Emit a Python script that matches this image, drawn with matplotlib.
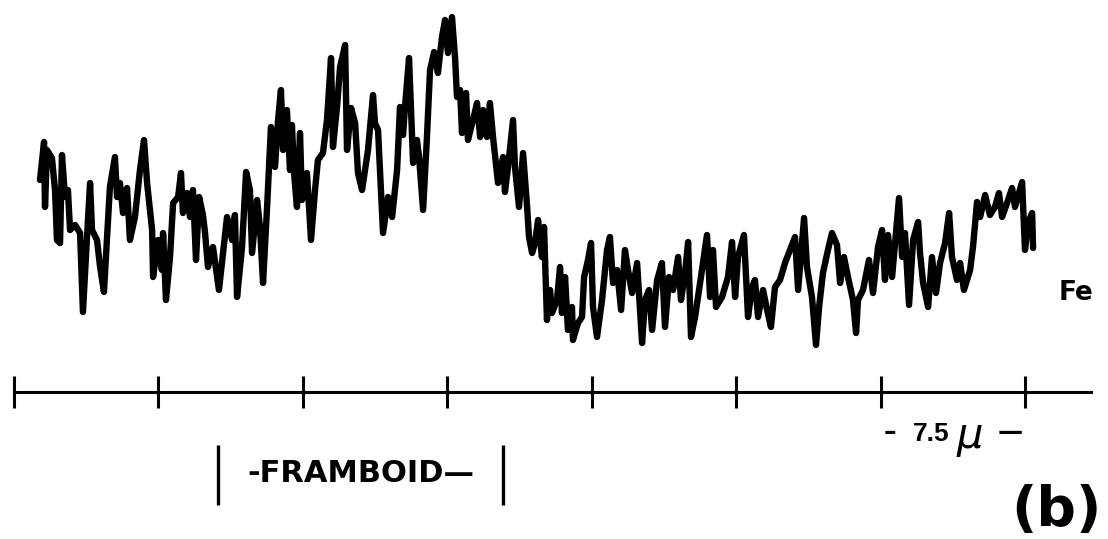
import matplotlib
matplotlib.use("Agg")
import matplotlib.pyplot as plt

# Fe line scan across a framboid: position along the scan (µm) and Fe signal (arb. units)
position_um = [
    1.35, 1.56, 1.61, 1.71, 1.97, 2.13, 2.23, 2.39, 2.49, 2.65, 2.80, 2.91, 3.17, 3.43, 3.58,
    3.79, 3.95, 4.05, 4.31, 4.47, 4.67, 4.98, 5.24, 5.35, 5.50, 5.66, 5.87, 6.02, 6.28, 6.54,
    6.75, 6.91, 7.17, 7.22, 7.48, 7.68, 7.74, 7.89, 8.10, 8.26, 8.52, 8.67, 8.77, 8.98, 9.14,
    9.29, 9.45, 9.61, 9.81, 9.92, 10.07, 10.33, 10.64, 11.06, 11.32, 11.47, 11.58, 11.84, 12.05,
    12.25, 12.36, 12.62, 12.77, 12.93, 13.14, 13.34, 13.55, 13.71, 13.86, 13.97, 14.17, 14.33,
    14.43, 14.54, 14.69, 14.85, 14.95, 15.21, 15.42, 15.63, 15.78, 16.04, 16.25, 16.46, 16.56,
    16.77, 16.93, 17.19, 17.29, 17.50, 17.71, 17.86, 18.07, 18.38, 18.64, 18.74, 18.90, 19.16,
    19.42, 19.63, 19.89, 20.04, 20.20, 20.30, 20.51, 20.72, 20.92, 21.03, 21.24, 21.44, 21.60,
    21.81, 22.01, 22.22, 22.38, 22.53, 22.74, 22.90, 23.00, 23.16, 23.26, 23.47, 23.57, 23.83,
    24.04, 24.20, 24.35, 24.56, 24.71, 24.87, 25.13, 25.39, 25.49, 25.65, 25.91, 26.01, 26.22,
    26.43, 26.64, 26.74, 26.90, 27.05, 27.21, 27.41, 27.52, 27.67, 27.83, 27.93, 28.19, 28.35,
    28.45, 28.61, 28.76, 28.97, 29.02, 29.28, 29.49, 29.60, 29.80, 29.96, 30.06, 30.27, 30.53,
    30.79, 30.94, 31.10, 31.31, 31.52, 31.72, 31.88, 32.09, 32.35, 32.61, 32.76, 32.97, 33.13,
    33.39, 33.64, 33.80, 34.01, 34.22, 34.48, 34.63, 34.84, 35.00, 35.15, 35.36, 35.62, 35.98,
    36.14, 36.29, 36.45, 36.76, 37.07, 37.28, 37.44, 37.59, 37.90, 38.11, 38.32, 38.47, 38.63,
    38.89, 39.10, 39.30, 39.51, 39.77, 40.03, 40.29, 40.55, 40.71, 40.91, 41.02, 41.17, 41.43,
    41.64, 41.80, 42.00, 42.26, 42.47, 42.73, 42.89, 43.09, 43.30, 43.56, 43.72, 43.82, 44.08,
    44.39, 44.60, 44.86, 45.07, 45.22, 45.38, 45.59, 45.79, 45.95, 46.11, 46.26, 46.47, 46.68,
    46.94, 47.04, 47.20, 47.46, 47.66, 47.87, 48.08, 48.34, 48.55, 48.70, 48.96, 49.12, 49.32,
    49.64, 49.79, 50.00, 50.16, 50.42, 50.67, 50.93, 51.14, 51.30, 51.56, 51.82, 51.97, 52.34,
    52.49, 52.65, 52.86, 52.91,
]
fe_signal = [
    180, 218, 153, 210, 202, 170, 120, 117, 205, 163, 170, 130, 135, 127, 48,
    123, 177, 130, 120, 93, 68, 173, 203, 163, 177, 147, 172, 120, 143, 190,
    220, 177, 130, 83, 120, 90, 127, 60, 103, 157, 163, 187, 147, 167, 143,
    170, 100, 163, 145, 127, 93, 113, 70, 143, 120, 145, 63, 113, 188,
    170, 107, 160, 133, 77, 153, 233, 193, 240, 270, 210, 250, 190,
    235, 187, 153, 227, 160, 187, 120, 170, 200, 207, 240, 302, 213,
    253, 293, 315, 210, 252, 237, 187, 170, 210, 265, 237, 230, 127,
    163, 143, 190, 253, 225, 253, 302, 197, 220, 203, 150, 223, 290,
    308, 287, 323, 340, 307, 343, 302, 263, 270, 227, 267, 220, 240,
    257, 223, 250, 223, 257, 223, 177, 203, 168, 193, 240, 193, 153,
    207, 153, 123, 107, 117, 140, 103, 133, 40, 70, 47, 60, 93,
    47, 83, 30, 53, 20, 37, 43, 83, 100, 117, 53, 23, 60,
    110, 123, 77, 90, 50, 110, 90, 67, 97, 17, 60, 70, 30,
    80, 97, 33, 83, 70, 103, 60, 87, 118, 23, 43, 77, 125,
    63, 110, 53, 63, 83, 118, 63, 103, 125, 43, 73, 80, 43,
    70, 50, 33, 73, 80, 97, 110, 123, 70, 117, 142, 93, 63,
    15, 53, 87, 110, 127, 115, 77, 103, 83, 60, 27, 60, 70,
    100, 67, 113, 130, 80, 125, 83, 127, 162, 103, 127, 55, 120,
    138, 107, 77, 53, 103, 67, 97, 117, 147, 103, 80, 97, 70,
    90, 113, 158, 143, 165, 145, 153, 167, 143, 157, 172, 153, 178,
    110, 137, 147, 112,
]

# Distance scale: one division = 7.5 µm
scale_ticks_um = [0, 7.5, 15, 22.5, 30, 37.5, 45, 52.5]
scale_end_um = 55.9
framboid_edges_um = [10.6, 25.4]

fig = plt.figure(figsize=(11.08, 5.39), dpi=100)
ax = fig.add_axes([0, 0, 1, 1])
ax.set_xlim(-0.727, 56.80)
ax.set_ylim(-179, 360)
ax.axis("off")

ax.plot(position_um, fe_signal, color="black", lw=4.6,
        solid_joinstyle="round", solid_capstyle="round")
ax.text(55.15, 67, "Fe", fontsize=19, fontweight="bold",
        ha="center", va="center", family="DejaVu Sans")

# scale bar
bar_y = -32
ax.plot([scale_ticks_um[0], scale_end_um], [bar_y, bar_y], color="black", lw=2.2)
ax.vlines(scale_ticks_um, bar_y - 16, bar_y + 16, color="black", lw=2.2)
ax.text(45.5, -72, "–", fontsize=18, fontweight="bold", ha="center", va="center")
ax.text(47.6, -74, "7.5", fontsize=19, fontweight="bold", ha="center", va="center",
        family="Liberation Sans")
ax.text(49.6, -78, r"$\mu$", fontsize=30, ha="center", va="center")
ax.text(51.7, -72, "—", fontsize=18, fontweight="bold", ha="center", va="center")

# extent of the framboid
ax.vlines(framboid_edges_um, -145, -85, color="black", lw=2.4)
ax.text(sum(framboid_edges_um) / 2, -113, "-FRAMBOID—", fontsize=22,
        fontweight="bold", ha="center", va="center", family="DejaVu Sans")

ax.text(54.1, -151, "(b)", fontsize=40, fontweight="bold",
        ha="center", va="center", family="DejaVu Sans")

fig.savefig("out.png", dpi=100, facecolor="white")
